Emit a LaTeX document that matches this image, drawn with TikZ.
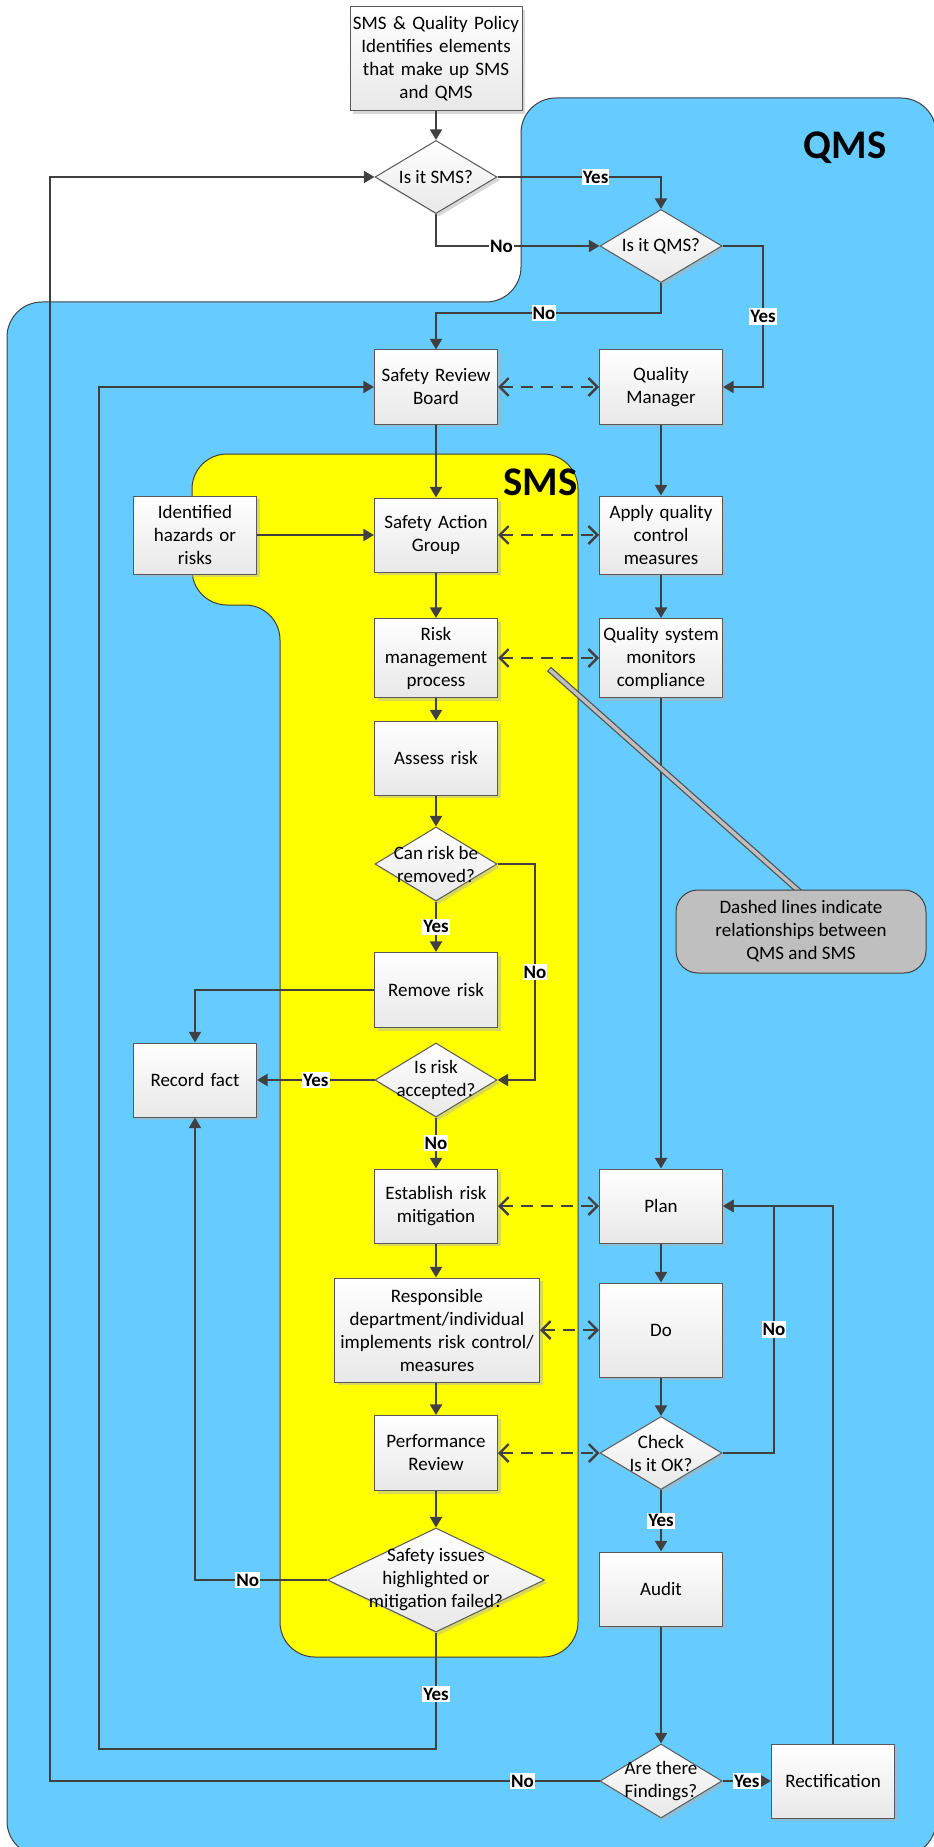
\documentclass[tikz,border=0pt]{standalone}
\usepackage{fontspec}
\setmainfont{Carlito}
\usetikzlibrary{shapes.geometric,arrows.meta,shadows}
\newcommand\boxfont{\fontsize{14.25}{17.25}\selectfont}
\definecolor{qmsblue}{HTML}{66CCFF}
\definecolor{smsyellow}{HTML}{FFFF00}
\definecolor{lncol}{HTML}{404040}
\definecolor{bordcol}{HTML}{595959}
\definecolor{callgray}{HTML}{BFBFBF}
\tikzset{
 shadowed/.style={drop shadow={shadow xshift=2.25pt,shadow yshift=-2.25pt,fill=black!30,opacity=0.5}},
 box/.style={shadowed, rectangle, draw=bordcol, line width=0.75pt, top color=white, bottom color=black!9,
   minimum width=92.25pt, minimum height=55.5pt, text width=87.75pt, inner sep=0pt, align=center, font=\boxfont, text=black},
 dia/.style={shadowed, diamond, draw=bordcol, line width=0.75pt, top color=white, bottom color=black!9,
   minimum width=91.5pt, minimum height=54.75pt, inner sep=0pt},
 dtext/.style={align=center, font=\boxfont, text=black, inner sep=0pt},
 lbl/.style={fill=white, font=\boxfont\bfseries, text=black, inner xsep=0.75pt, inner ysep=1.5pt},
 flow/.style={draw=lncol, line width=1.75pt, -{Triangle[length=8pt,width=9pt]}},
 rel/.style={draw=lncol, line width=1.75pt, dash pattern=on 9pt off 6pt,
   {Straight Barb[length=6.75pt,width=13.5pt]}-{Straight Barb[length=6.75pt,width=13.5pt]}},
 region/.style={draw=lncol, line width=0.75pt, rounded corners=26.25pt},
}
\begin{document}
\begin{tikzpicture}[x=0.75pt,y=-0.75pt]
\useasboundingbox (0,0) rectangle (934,1847);
\begin{scope}
\clip (0,0) rectangle (934,1847);
\fill[white] (0,0) rectangle (934,1847);
\path[region, fill=qmsblue] (7,1000) -- (7,302) -- (521,302) -- (521,98) -- (936,98) -- (936,1856) -- (7,1856) -- cycle;
\path[region, fill=smsyellow] (280,1000) -- (280,605) -- (192,605) -- (192,454) -- (578,454) -- (578,1657) -- (280,1657) -- cycle;
\end{scope}
\node[font=\fontsize{30.5}{36}\selectfont\bfseries, text=black] (qmslabel) at (845,148) {QMS};
\node[font=\fontsize{30.5}{36}\selectfont\bfseries, text=black, anchor=east, inner sep=0pt] (smslabel) at (578,482) {SMS};

% nodes
\node[box, minimum width=129pt, minimum height=78pt, text width=126pt] (top) at (436,59) {SMS \& Quality Policy\\Identifies elements\\that make up SMS\\and QMS};
\node[dia] (sms) at (436,177) {};
\node[dtext] (smst) at (sms) {Is it SMS?};
\node[dia] (qms) at (661,246) {};
\node[dtext] (qmst) at (qms) {Is it QMS?};
\node[box] (srb) at (436,387) {Safety Review\\Board};
\node[box] (qm) at (661,387) {Quality\\Manager};
\node[box, minimum height=58.5pt] (haz) at (195,535) {Identified\\hazards or\\risks};
\node[box] (sag) at (436,535) {Safety Action\\Group};
\node[box, minimum height=58.5pt] (apply) at (661,535) {Apply quality\\control\\measures};
\node[box, minimum height=59.25pt] (risk) at (436,658) {Risk\\management\\process};
\node[box, minimum height=59.25pt] (qsys) at (661,658) {Quality system\\monitors\\compliance};
\node[box] (assess) at (436,758) {Assess risk};
\node[dia, minimum height=55.5pt] (can) at (436,864) {};
\node[dtext] (cant) at (can) {Can risk be\\removed?};
\node[box, minimum height=56.25pt] (remove) at (436,990) {Remove risk};
\node[box] (record) at (195,1080) {Record fact};
\node[dia, minimum height=55.5pt] (acc) at (436,1080) {};
\node[dtext] (acct) at (acc) {Is risk\\accepted?};
\node[box] (est) at (436,1206) {Establish risk\\mitigation};
\node[box] (plan) at (661,1206) {Plan};
\node[box, minimum width=153.75pt, text width=150.75pt, minimum height=78pt] (resp) at (437,1330) {Responsible\\department/individual\\implements risk control/\\measures};
\node[box, minimum height=70.5pt] (donode) at (661,1330) {Do};
\node[box, minimum height=56.25pt] (perf) at (436,1453) {Performance\\Review};
\node[dia] (check) at (661,1453) {};
\node[dtext] (checkt) at (check) {Check\\Is it OK?};
\node[dia, minimum width=162.75pt, minimum height=78pt] (safe) at (436,1580) {};
\node[dtext] (safet) at (safe) {Safety issues\\highlighted or\\mitigation failed?};
\node[box] (audit) at (661,1589) {Audit};
\node[dia, minimum height=55.5pt] (find) at (661,1781) {};
\node[dtext] (findt) at (find) {Are there\\Findings?};
\node[box] (rect) at (833,1781) {Rectification};

% turning points
\coordinate (q1) at (436,313);
\coordinate (q2) at (763,387);
\coordinate (n1) at (535,1080);
\coordinate (y1) at (436,1749);
\coordinate (y2) at (99,1749);
\coordinate (z1) at (50,1781);
\coordinate (k1) at (774,1206);

% flows
\draw[flow] (top) -- (sms);
\draw[flow] (sms.east) -| node[lbl,pos=0.3] (l1) {Yes} (qms.north);
\draw[flow] (sms.south) |- node[lbl,pos=0.7] (l2) {No} (qms.west);
\draw[flow] (qms.south) |- node[lbl,pos=0.76] (l3) {No} (q1) -- (srb.north);
\draw[flow] (qms.east) -| node[lbl,pos=0.75] (l4) {Yes} (q2) -- (qm.east);
\draw[flow] (srb) -- (sag);
\draw[flow] (qm) -- (apply);
\draw[flow] (haz) -- (sag);
\draw[flow] (sag) -- (risk);
\draw[flow] (apply) -- (qsys);
\draw[flow] (risk) -- (assess);
\draw[flow] (assess) -- (can);
\draw[flow] (can) -- node[lbl] (l5) {Yes} (remove);
\draw[flow] (can.east) -| node[lbl,pos=0.75] (l6) {No} (n1) -- (acc.east);
\draw[flow] (remove.west) -| (record.north);
\draw[flow] (acc) -- node[lbl] (l7) {Yes} (record);
\draw[flow] (acc) -- node[lbl] (l8) {No} (est);
\draw[flow] (est) -- (est |- resp.north);
\draw[flow] (resp.south -| perf.north) -- (perf);
\draw[flow] (perf) -- (safe);
\draw[flow] (safe.west) -| node[lbl,pos=0.3] (l9) {No} (record.south);
\draw[flow] (safe.south) -- node[lbl,pos=0.53] (l10) {Yes} (y1) -- (y2) |- (srb.west);
\draw[flow] (qsys) -- (plan);
\draw[flow] (plan) -- (donode);
\draw[flow] (donode) -- (check);
\draw[flow] (check) -- node[lbl] (l11) {Yes} (audit);
\draw[flow] (audit) -- (find);
\draw[flow] (find) -- node[lbl] (l12) {Yes} (rect);
\draw[flow] (find.west) -- node[lbl,pos=0.14] (l13) {No} (z1) |- (sms.west);
\draw[flow] (check.east) -| node[lbl,pos=0.75] (l14) {No} (k1) -- (plan.east);
\draw[flow] (rect.north) |- (plan.east);

% relations
\draw[rel] (srb) -- (qm);
\draw[rel] (sag) -- (apply);
\draw[rel] (risk) -- (qsys);
\draw[rel] (est) -- (plan);
\draw[rel] (resp) -- (donode);
\draw[rel] (perf) -- (check);

% callout
\coordinate (p1) at (549,669);
\coordinate (p2) at (801,893);
\draw[line width=4.5pt, draw=lncol!90] (p1) -- (p2);
\draw[line width=2.6pt, draw=black!25, shorten <=0.75pt] (p1) -- (p2);
\node[draw=lncol, line width=0.75pt, fill=callgray, rounded corners=16.5pt, minimum width=187.5pt, minimum height=62.25pt, align=center, font=\boxfont, text=black] (callout) at (801,931.5) {Dashed lines indicate\\relationships between\\QMS and SMS};
\end{tikzpicture}
\end{document}
